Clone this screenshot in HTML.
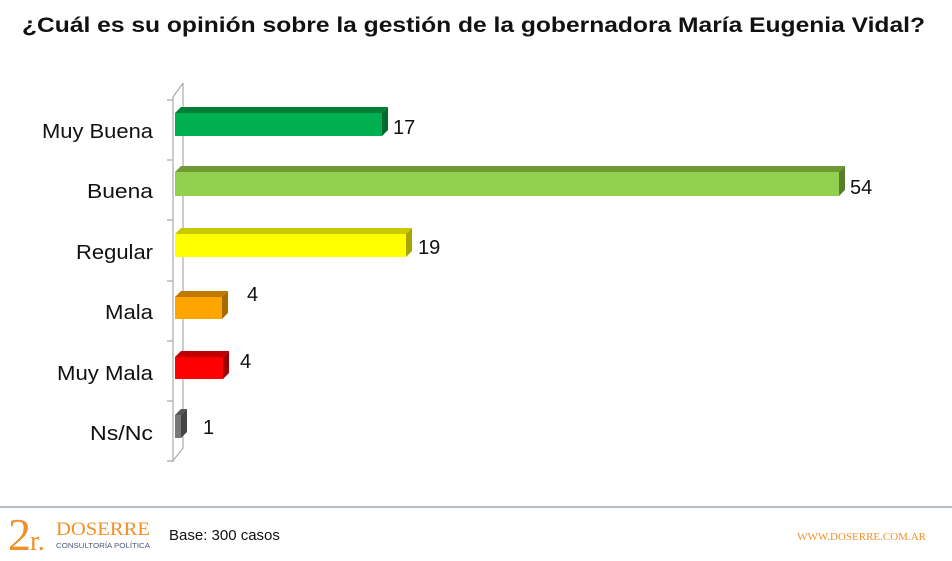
<!DOCTYPE html><html><head><meta charset="utf-8"><style>body{margin:0;background:#fff;width:952px;height:556px;overflow:hidden;font-family:"Liberation Sans",sans-serif}</style></head><body>
<svg width="952" height="556" xmlns="http://www.w3.org/2000/svg" font-family="Liberation Sans, sans-serif">
<text x="22" y="32" font-size="21" font-weight="bold" fill="#111" textLength="903" lengthAdjust="spacingAndGlyphs">¿Cuál es su opinión sobre la gestión de la gobernadora María Eugenia Vidal?</text>
<g stroke="#aaa" stroke-width="1.2" fill="none">
<path d="M183 83 L183 448 L172 462"/><path d="M183 83 L173 97 L173 462"/>
<path d="M167 100h6M167 160h6M167 220h6M167 281h6M167 341h6M167 401h6M167 461h6"/>
</g>
<g>
<polygon points="175,113 181,107 388,107 382,113" fill="#008037"/><polygon points="382,113 388,107 388,130 382,136" fill="#006a2c"/><rect x="175" y="113" width="207" height="23" fill="#00b050"/>
<polygon points="175,172 181,166 845,166 839,172" fill="#6f9a35"/><polygon points="839,172 845,166 845,190 839,196" fill="#5a7d2a"/><rect x="175" y="172" width="664" height="24" fill="#92d050"/>
<polygon points="175,234 181,228 412,228 406,234" fill="#c8c800"/><polygon points="406,234 412,228 412,251 406,257" fill="#a6a600"/><rect x="175" y="234" width="231" height="23" fill="#ffff00"/>
<polygon points="175,297 181,291 228,291 222,297" fill="#c07a00"/><polygon points="222,297 228,291 228,313 222,319" fill="#a86a00"/><rect x="175" y="297" width="47" height="22" fill="#ffa500"/>
<polygon points="175,357 181,351 229,351 223,357" fill="#c00000"/><polygon points="223,357 229,351 229,373 223,379" fill="#a00000"/><rect x="175" y="357" width="48" height="22" fill="#ff0000"/>
<polygon points="175,415 181,409 187,409 181,415" fill="#555"/><polygon points="181,415 187,409 187,432 181,438" fill="#444"/><rect x="175" y="415" width="6" height="23" fill="#777"/>
</g>
<g font-size="20" fill="#111" text-anchor="end">
<text x="153" y="138" textLength="111" lengthAdjust="spacingAndGlyphs">Muy Buena</text><text x="153" y="198" textLength="66" lengthAdjust="spacingAndGlyphs">Buena</text><text x="153" y="259" textLength="77" lengthAdjust="spacingAndGlyphs">Regular</text><text x="153" y="319" textLength="48" lengthAdjust="spacingAndGlyphs">Mala</text><text x="153" y="380" textLength="96" lengthAdjust="spacingAndGlyphs">Muy Mala</text><text x="153" y="440" textLength="63" lengthAdjust="spacingAndGlyphs">Ns/Nc</text>
</g>
<g font-size="20" fill="#111">
<text x="393" y="134">17</text><text x="850" y="194">54</text><text x="418" y="254">19</text><text x="247" y="301">4</text><text x="240" y="368">4</text><text x="203" y="434">1</text>
</g>
<line x1="0" y1="507" x2="952" y2="507" stroke="#b4bec6" stroke-width="2"/>
<text x="8" y="550" font-family="Liberation Serif, serif" font-size="46" fill="#f0902a">2</text>
<text x="30" y="550" font-family="Liberation Serif, serif" font-size="28" fill="#f0902a">r.</text>
<text x="56" y="535" font-family="Liberation Serif, serif" font-size="19" fill="#f0902a" textLength="94" lengthAdjust="spacingAndGlyphs">DOSERRE</text>
<text x="56" y="548" font-size="7" fill="#4a5a78" textLength="94" lengthAdjust="spacingAndGlyphs">CONSULTORÍA POLÍTICA</text>
<text x="169" y="540" font-size="15" fill="#111">Base: 300 casos</text>
<text x="926" y="540" text-anchor="end" font-family="Liberation Serif, serif" font-size="11" fill="#f0902a">WWW.DOSERRE.COM.AR</text>
</svg></body></html>
